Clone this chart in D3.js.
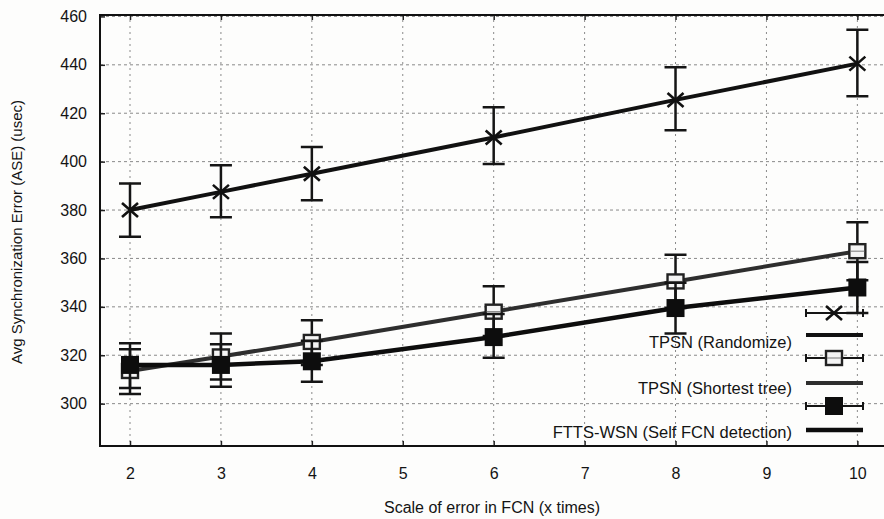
<!DOCTYPE html>
<html lang="en">
<head>
    <meta charset="UTF-8">
    <title>ASE vs scale of error in FCN</title>
    <script src="https://d3js.org/d3.v7.min.js"></script>
    <style>
        body { margin: 0; background: #fff; }
        svg { display: block; background: #fdfdfc; }
        text { font-family: "Liberation Sans Narrow", "Liberation Sans", Arial, sans-serif; fill: #141414; }
    </style>
</head>
<body>
    <script>
        // values
        const xValues = [2, 3, 4, 6, 8, 10];
        const xTicks = [2, 3, 4, 5, 6, 7, 8, 9, 10];
        const yTicks = [300, 320, 340, 360, 380, 400, 420, 440, 460];

        const seriesNames = ["TPSN (Randomize)", "TPSN (Shortest tree)", "FTTS-WSN (Self FCN detection)"];

        const randMean = [380, 387.5, 395, 410, 425.5, 440.5];
        const randLow  = [369, 377, 384, 399, 413, 427];
        const randHigh = [391, 398.5, 406, 422.5, 439, 454.5];

        const shortMean = [313.5, 319.5, 325.5, 338, 350.5, 363];
        const shortLow  = [304, 310, 316, 328, 339.5, 351];
        const shortHigh = [325, 329, 334.5, 348.5, 361.5, 375];

        const selfMean = [316, 316, 317.5, 327.5, 339.5, 348];
        const selfLow  = [306.5, 307, 309, 319, 329, 337.5];
        const selfHigh = [322.5, 324.5, 326, 337, 350, 358.5];

        const w = 884;
        const h = 519;

        const xScale = d3.scaleLinear().domain([1.67, 10.37]).range([100, 891]);
        const yScale = d3.scaleLinear().domain([282.5, 461]).range([446, 14]);

        const svg = d3.select("body").append("svg")
            .attr("width", w)
            .attr("height", h);

        // grid
        svg.append("g").selectAll("line")
            .data(yTicks).enter().append("line")
            .attr("x1", 100).attr("x2", w)
            .attr("y1", d => yScale(d)).attr("y2", d => yScale(d))
            .attr("stroke", "#8a8a8a").attr("stroke-width", 1)
            .attr("stroke-dasharray", "3,3");

        svg.append("g").selectAll("line")
            .data(xTicks).enter().append("line")
            .attr("x1", d => xScale(d)).attr("x2", d => xScale(d))
            .attr("y1", 14).attr("y2", 446)
            .attr("stroke", "#8a8a8a").attr("stroke-width", 1)
            .attr("stroke-dasharray", "2,4");

        // axes (ticks point inward like gnuplot)
        const xAxis = d3.axisBottom(xScale).tickValues(xTicks).tickFormat(d3.format("d")).tickSize(-5).tickPadding(25);
        const yAxis = d3.axisLeft(yScale).tickValues(yTicks).tickSize(-5).tickPadding(13);

        const gx = svg.append("g").attr("transform", "translate(0,446)").call(xAxis);
        const gy = svg.append("g").attr("transform", "translate(100,0)").call(yAxis);
        [gx, gy].forEach(g => {
            g.select(".domain").remove();
            g.selectAll(".tick line").attr("stroke", "#222").attr("stroke-width", 1.5);
            g.selectAll(".tick text").attr("font-size", 16).attr("fill", "#141414");
        });
        gx.selectAll(".tick text").attr("dy", "0.5em");

        // top ticks
        svg.append("g").attr("transform", "translate(0,15)")
            .call(d3.axisTop(xScale).tickValues(xTicks).tickSize(-5).tickFormat(""))
            .call(g => g.select(".domain").remove())
            .selectAll(".tick line").attr("stroke", "#222").attr("stroke-width", 1.5);

        // border
        svg.append("path")
            .attr("d", "M891,15 H100 V446 H891")
            .attr("fill", "none").attr("stroke", "#111").attr("stroke-width", 2);

        // axis titles
        svg.append("text")
            .attr("x", 492).attr("y", 513)
            .attr("text-anchor", "middle")
            .attr("font-size", 16)
            .text("Scale of error in FCN (x times)");

        svg.append("text")
            .attr("transform", "translate(22,232) rotate(-90)")
            .attr("text-anchor", "middle")
            .attr("font-size", 15)
            .text("Avg Synchronization Error (ASE) (usec)");

        const series = [
            { mean: randMean, low: randLow, high: randHigh, marker: "x", color: "#111", width: 4 },
            { mean: shortMean, low: shortLow, high: shortHigh, marker: "open", color: "#2e2e2e", width: 4 },
            { mean: selfMean, low: selfLow, high: selfHigh, marker: "filled", color: "#0d0d0d", width: 4.5 }
        ];

        function drawMarker(g, type, cx, cy) {
            if (type === "x") {
                g.append("path")
                    .attr("d", `M${cx - 8},${cy - 7} L${cx + 8},${cy + 7} M${cx - 8},${cy + 7} L${cx + 8},${cy - 7}`)
                    .attr("stroke", "#111").attr("stroke-width", 2.6).attr("fill", "none");
            } else if (type === "open") {
                g.append("rect")
                    .attr("x", cx - 8).attr("y", cy - 7).attr("width", 16).attr("height", 14)
                    .attr("fill", "#f4f4f4").attr("stroke", "#222").attr("stroke-width", 2.4);
                g.append("line")
                    .attr("x1", cx - 7).attr("x2", cx + 7).attr("y1", cy).attr("y2", cy)
                    .attr("stroke", "#777").attr("stroke-width", 1);
            } else {
                g.append("rect")
                    .attr("x", cx - 9).attr("y", cy - 9).attr("width", 18).attr("height", 18)
                    .attr("fill", "#0d0d0d");
            }
        }

        const line = d3.line()
            .x(d => xScale(d[0]))
            .y(d => yScale(d[1]));

        series.forEach(s => {
            const g = svg.append("g");
            const pts = xValues.map((x, i) => [x, s.mean[i]]);

            // error bars
            xValues.forEach((x, i) => {
                const cx = xScale(x);
                g.append("path")
                    .attr("d", `M${cx},${yScale(s.low[i])} V${yScale(s.high[i])}` +
                        ` M${cx - 11},${yScale(s.low[i])} H${cx + 11}` +
                        ` M${cx - 11},${yScale(s.high[i])} H${cx + 11}`)
                    .attr("stroke", "#151515").attr("stroke-width", 2.5).attr("fill", "none");
            });

            g.append("path")
                .datum(pts)
                .attr("d", line)
                .attr("fill", "none")
                .attr("stroke", s.color)
                .attr("stroke-width", s.width);

            pts.forEach(p => drawMarker(g, s.marker, xScale(p[0]), yScale(p[1])));
        });

        // legend, gnuplot style: marker row, then title + line row
        const legMarkerY = [313, 358, 406];
        const legLineY = [335, 383, 430];
        const legTextY = [342, 388, 432];
        const lx1 = 806, lx2 = 863, lmid = 834;

        series.forEach((s, i) => {
            const g = svg.append("g");
            g.append("path")
                .attr("d", `M${lx1},${legMarkerY[i]} H${lx2} M${lx1},${legMarkerY[i] - 4} v8 M${lx2},${legMarkerY[i] - 4} v8`)
                .attr("stroke", "#151515").attr("stroke-width", 2).attr("fill", "none");
            drawMarker(g, s.marker, lmid, legMarkerY[i]);

            g.append("line")
                .attr("x1", lx1).attr("x2", lx2)
                .attr("y1", legLineY[i]).attr("y2", legLineY[i])
                .attr("stroke", s.color).attr("stroke-width", s.width);

            g.append("text")
                .attr("x", 792).attr("y", legTextY[i])
                .attr("dy", "0.35em")
                .attr("text-anchor", "end")
                .attr("font-size", 16.5)
                .text(seriesNames[i]);
        });
    </script>
</body>
</html>
